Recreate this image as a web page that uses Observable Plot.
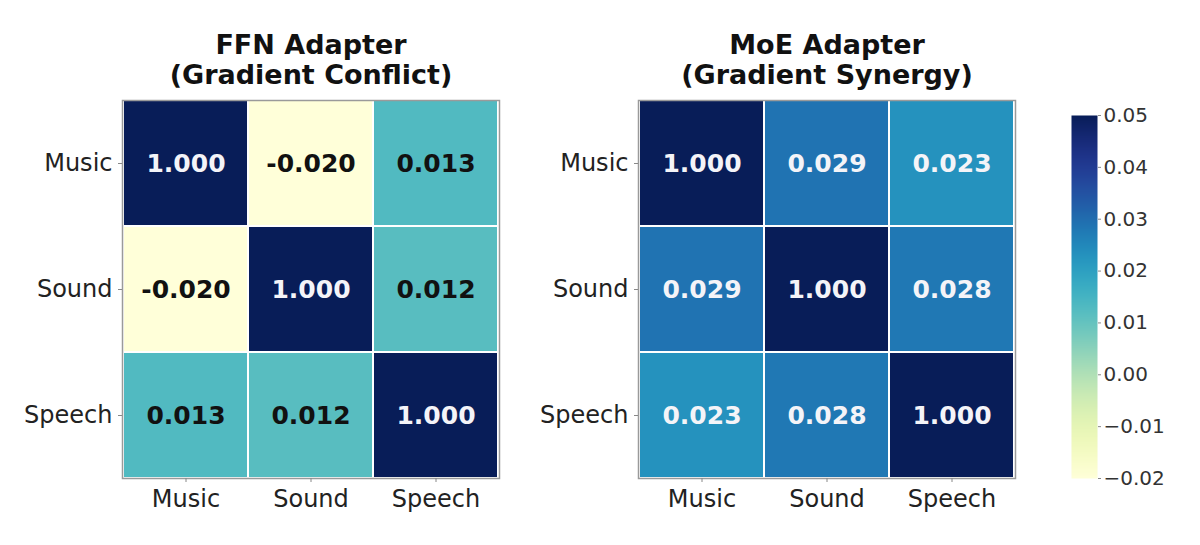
<!DOCTYPE html>
<html>
<head>
<meta charset="utf-8">
<script src="https://cdn.jsdelivr.net/npm/d3@7"></script>
<script src="https://cdn.jsdelivr.net/npm/@observablehq/plot@0.6"></script>
<style>
  html, body { margin: 0; padding: 0; background: white; }
  #wrap { position: relative; width: 1200px; height: 545px; background: white; overflow: hidden; }
  #wrap > svg { position: absolute; top: 0; }
</style>
</head>
<body>
<div id="wrap"></div>
<script>
const categories = ["Music", "Sound", "Speech"];
const ffnTitle = ["FFN Adapter", "(Gradient Conflict)"];
const moeTitle = ["MoE Adapter", "(Gradient Synergy)"];
const ffnValues = [
  [1.000, -0.020, 0.013],
  [-0.020, 1.000, 0.012],
  [0.013, 0.012, 1.000]
];
const moeValues = [
  [1.000, 0.029, 0.023],
  [0.029, 1.000, 0.028],
  [0.023, 0.028, 1.000]
];
const colorDomain = [-0.02, 0.05];
const colorbarTicks = [-0.02, -0.01, 0.00, 0.01, 0.02, 0.03, 0.04, 0.05];

const FONT = "DejaVu Sans";
const colorScale = {type: "linear", scheme: "YlGnBu", domain: colorDomain, clamp: true};

function toTable(values) {
  return values.flatMap((row, i) => row.map((v, j) => ({row: categories[i], col: categories[j], value: v})));
}

function heatmap(values, title, left, marginLeft) {
  const data = toTable(values);
  const isDarkCell = d => d.value > 0.018;
  const svg = Plot.plot({
    width: 520,
    height: 545,
    marginLeft: marginLeft,
    marginRight: 520 - marginLeft - 377,
    marginTop: 100,
    marginBottom: 67,
    style: {fontFamily: FONT, color: "#222", background: "transparent", overflow: "visible"},
    x: {type: "band", domain: categories, padding: 0, label: null},
    y: {type: "band", domain: categories, padding: 0, label: null},
    color: colorScale,
    marks: [
      Plot.cell(data, {x: "col", y: "row", fill: "value", stroke: "white", strokeWidth: 2}),
      Plot.text(data.filter(isDarkCell), {x: "col", y: "row", text: d => d.value.toFixed(3), fill: "#f4f4f8", fontSize: 25, fontWeight: "bold"}),
      Plot.text(data.filter(d => !isDarkCell(d)), {x: "col", y: "row", text: d => d.value.toFixed(3), fill: "#111", fontSize: 25, fontWeight: "bold"}),
      Plot.frame({stroke: "#9a9a9a", strokeWidth: 1.5}),
      Plot.axisX({tickSize: 4, tickPadding: 7, fontSize: 24, stroke: "#888", label: null}),
      Plot.axisY({tickSize: 4, tickPadding: 6, fontSize: 24, stroke: "#888", label: null}),
      Plot.text([title[0]], {text: d => d, frameAnchor: "top", dy: -47, lineAnchor: "bottom", fontSize: 27, fontWeight: "bold", fill: "#111"}),
      Plot.text([title[1]], {text: d => d, frameAnchor: "top", dy: -17, lineAnchor: "bottom", fontSize: 27, fontWeight: "bold", fill: "#111"})
    ]
  });
  svg.style.left = left + "px";
  return svg;
}

const wrap = document.getElementById("wrap");
wrap.appendChild(heatmap(ffnValues, ffnTitle, 0, 122));
wrap.appendChild(heatmap(moeValues, moeTitle, 520, 118));

const cbar = Plot.plot({
  width: 160,
  height: 545,
  marginLeft: 31,
  marginRight: 103,
  marginTop: 115,
  marginBottom: 67,
  style: {fontFamily: FONT, color: "#333", background: "transparent", overflow: "visible"},
  x: {domain: [0, 1], axis: null},
  y: {domain: colorDomain, label: null},
  color: colorScale,
  marks: [
    Plot.raster({x1: 0, x2: 1, y1: colorDomain[0], y2: colorDomain[1], fill: (x, y) => y, width: 4, height: 363}),
    Plot.axisY({anchor: "right", ticks: colorbarTicks, tickFormat: d3.format(".2f"), tickSize: 3, tickPadding: 3, fontSize: 20, stroke: "#888", label: null})
  ]
});
cbar.style.left = "1040px";
wrap.appendChild(cbar);
</script>
</body>
</html>
